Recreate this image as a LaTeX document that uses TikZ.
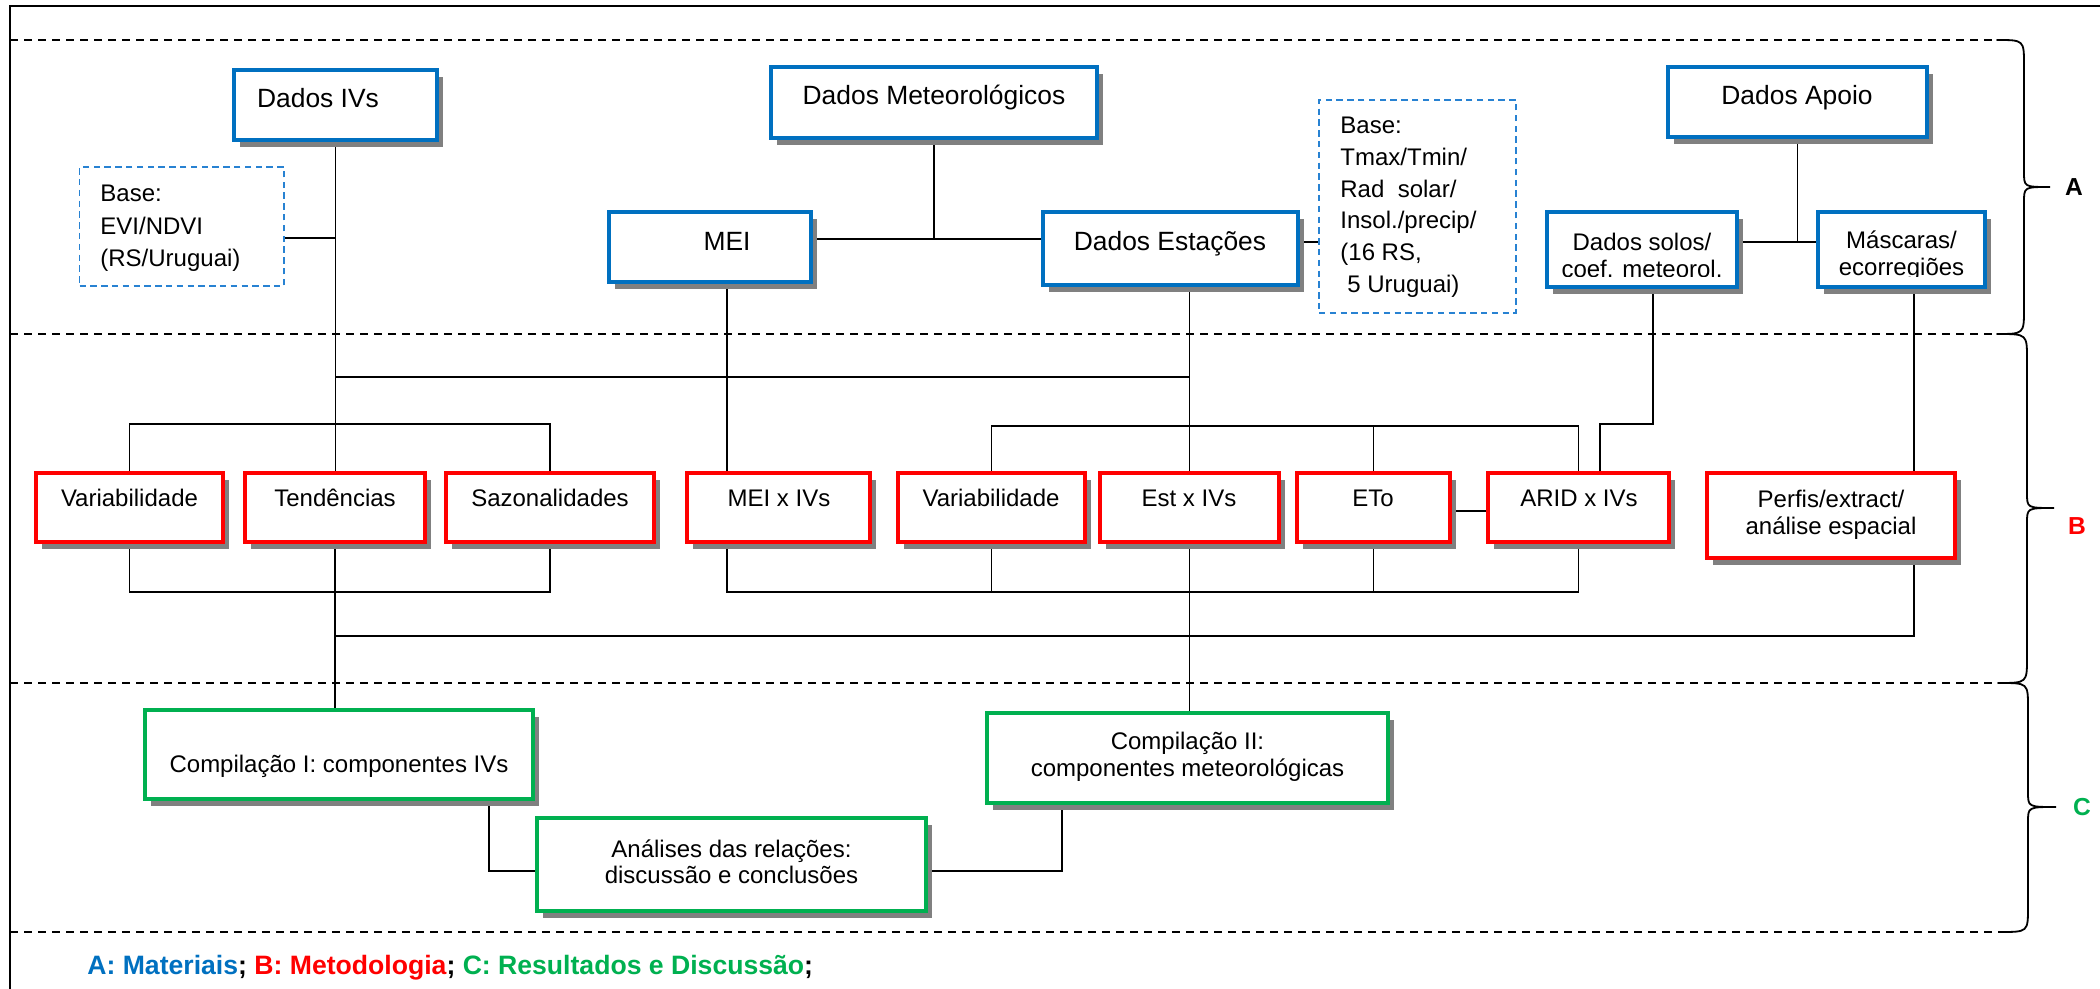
\documentclass[tikz,border=0pt]{standalone}
\usepackage{fontspec}
\setmainfont{Liberation Sans}
\usetikzlibrary{backgrounds}
\definecolor{cblue}{RGB}{0,112,192}
\definecolor{cred}{RGB}{255,0,0}
\definecolor{cgreen}{RGB}{0,176,80}
\definecolor{cdash}{RGB}{40,130,210}
\definecolor{shade}{RGB}{128,128,128}
\newcommand\secbrace[6]{%
  \draw[bracepath] (#1,#4) .. controls (#2,#4) .. (#2,#4+25) -- (#2,#5-15)
    .. controls (#2,#5) .. (#3,#5) .. controls (#2,#5) .. (#2,#5+15)
    -- (#2,#6-25) .. controls (#2,#6) .. (#1,#6);}
\tikzset{
  box/.style={draw, line width=1.75pt, fill=white, inner sep=0pt,
    preaction={fill=shade, transform canvas={xshift=3pt, yshift=-3.3pt}}},
  bbox/.style={box, draw=cblue},
  rbox/.style={box, draw=cred},
  gbox/.style={box, draw=cgreen},
  dbox/.style={draw=cdash, line width=0.65pt, dash pattern=on 3.2pt off 2.2pt, fill=white, inner sep=0pt},
  tbig/.style={font=\fontsize{13.2}{15}\selectfont, text height=9.4pt, text depth=0pt, inner sep=0pt},
  tmid/.style={font=\fontsize{12}{14}\selectfont, text height=8.6pt, text depth=0pt, inner sep=0pt},
  ttwo/.style={font=\fontsize{12}{13.5}\selectfont, align=center, inner sep=0pt},
  tbase/.style={font=\fontsize{12}{15.9}\selectfont, align=left, inner sep=0pt, anchor=north west},
  leg/.style={font=\fontsize{13.3}{15}\selectfont\bfseries, text height=9.5pt, text depth=0pt, inner sep=0pt, anchor=west},
  lab/.style={font=\fontsize{12.3}{14}\selectfont\bfseries, text height=8.8pt, text depth=0pt, inner sep=0pt},
  conn/.style={line width=0.7pt},
  sect/.style={line width=0.8pt, dash pattern=on 4pt off 3pt},
  bracepath/.style={line width=0.9pt, line cap=round},
}
\begin{document}
\begin{tikzpicture}[x=0.5pt, y=-0.5pt]
\useasboundingbox (0,0) rectangle (2100,989);
% frame and section lines
\draw[line width=1pt] (10,989) -- (10,6) -- (2100,6);
\draw[sect] (10,40) -- (1997,40);
\draw[sect] (10,334) -- (1998,334);
\draw[sect] (10,683) -- (2000,683);
\draw[sect] (10,932) -- (2000,932);
\secbrace{1997}{2024}{2050}{40}{187}{334}
\secbrace{1998}{2027}{2054}{334}{508}{683}
\secbrace{2000}{2028}{2056}{683}{807}{932}
\node[lab] (la) at (2074,187) {A};
\node[lab, text=cred] (lb) at (2077,526) {B};
\node[lab, text=cgreen] (lc) at (2082,807) {C};

% section A boxes
\node[bbox, minimum width=101.5pt, minimum height=35pt] (ivs) at (335.5,105) {};
\node[bbox, minimum width=163pt, minimum height=35.5pt] (met) at (934,102.5) {};
\node[bbox, minimum width=101pt, minimum height=35pt] (mei) at (710,247) {};
\node[bbox, minimum width=127.5pt, minimum height=36.5pt] (est) at (1170.5,248.5) {};
\node[bbox, minimum width=129.5pt, minimum height=35pt] (apoio) at (1797.5,102) {};
\node[bbox, minimum width=95pt, minimum height=37.5pt] (solos) at (1642,249.5) {};
\node[bbox, minimum width=83.5pt, minimum height=37.5pt] (masc) at (1901.5,249.5) {};
\node[dbox, minimum width=102.25pt, minimum height=59.5pt] (base1) at (181.75,226.5) {};
\node[dbox, minimum width=98.5pt, minimum height=106.5pt] (base2) at (1417.5,206.5) {};

% section B boxes
\node[rbox, minimum width=93.5pt, minimum height=34.5pt] (var1) at (129.5,507.5) {};
\node[rbox, minimum width=90pt, minimum height=34.5pt] (tend) at (335,507.5) {};
\node[rbox, minimum width=104pt, minimum height=34.5pt] (saz) at (550,507.5) {};
\node[rbox, minimum width=91.5pt, minimum height=34.5pt] (meixivs) at (778.5,507.5) {};
\node[rbox, minimum width=93.5pt, minimum height=34.5pt] (var2) at (991.5,507.5) {};
\node[rbox, minimum width=89.5pt, minimum height=34.5pt] (estxivs) at (1189.5,507.5) {};
\node[rbox, minimum width=76.5pt, minimum height=34.5pt] (eto) at (1373.5,507.5) {};
\node[rbox, minimum width=90.5pt, minimum height=34.5pt] (arid) at (1578.5,507.5) {};
\node[rbox, minimum width=124pt, minimum height=42.5pt] (perfis) at (1831,515.5) {};

% section C boxes
\node[gbox, minimum width=194pt, minimum height=44.5pt] (comp1) at (339,754.5) {};
\node[gbox, minimum width=194.5pt, minimum height=46.5pt] (anal) at (731.5,864.5) {};
\node[gbox, minimum width=200.5pt, minimum height=45pt] (comp2) at (1187.5,758) {};

% helper coordinates
\coordinate (y238) at (0,238);
\coordinate (y239) at (0,239);
\coordinate (y242) at (0,242);
\coordinate (y377) at (0,377);
\coordinate (y424) at (0,424);
\coordinate (y426) at (0,426);
\coordinate (y511) at (0,511);
\coordinate (y592) at (0,592);
\coordinate (y636) at (0,636);
\coordinate (y871) at (0,871);
\coordinate (x727) at (727,0);
\coordinate (x1600) at (1600,0);
\coordinate (x1653) at (1653,0);
\coordinate (x1914) at (1914,0);
\coordinate (x489) at (489,0);
\coordinate (x1062) at (1062,0);

\begin{pgfonlayer}{background}
\draw[conn] (ivs.south) -- (ivs.south |- tend.north);
\draw[conn] (tend.south) -- (tend.south |- comp1.north);
\draw[conn] (base1.east |- y238) -- (ivs.south |- y238);
\draw[conn] (met.south) -- (met.south |- y239);
\draw[conn] (mei.east |- y239) -- (est.west |- y239);
\draw[conn] (est.east |- y242) -- (base2.west |- y242);
\draw[conn] (apoio.south) -- (apoio.south |- y242);
\draw[conn] (solos.east |- y242) -- (masc.west |- y242);
\draw[conn] (estxivs.north |- est.south) -- (estxivs.north);
\draw[conn] (ivs.south |- y377) -- (estxivs.north |- y377);
\draw[conn] (mei.south -| x727) -- (meixivs.north -| x727);
\draw[conn] (var1.north) -- (var1.north |- y424) -- (saz.north |- y424) -- (saz.north);
\draw[conn] (var1.south) -- (var1.south |- y592) -- (saz.south |- y592) -- (saz.south);
\draw[conn] (var2.north) -- (var2.north |- y426) -- (arid.north |- y426) -- (arid.north);
\draw[conn] (eto.north) -- (eto.north |- y426);
\draw[conn] (meixivs.south -| x727) -- (x727 |- y592) -- (arid.south |- y592) -- (arid.south);
\draw[conn] (var2.south) -- (var2.south |- y592);
\draw[conn] (eto.south) -- (eto.south |- y592);
\draw[conn] (estxivs.south) -- (estxivs.south |- comp2.north);
\draw[conn] (eto.east |- y511) -- (arid.west |- y511);
\draw[conn] (solos.south -| x1653) -- (x1653 |- y424) -- (x1600 |- y424) -- (arid.north -| x1600);
\draw[conn] (masc.south -| x1914) -- (perfis.north -| x1914);
\draw[conn] (perfis.south -| x1914) -- (x1914 |- y636) -- (tend.south |- y636);
\draw[conn] (comp1.south -| x489) -- (x489 |- y871) -- (anal.west |- y871);
\draw[conn] (anal.east |- y871) -- (x1062 |- y871) -- (comp2.south -| x1062);
\end{pgfonlayer}

% texts
\node[tbig] (tivs) at (318,98) {Dados IVs};
\node[tbig] (tmet) at (934,95) {Dados Meteorológicos};
\node[tbig] (tmei) at (727,241) {MEI};
\node[tbig] (test) at (1170,241) {Dados Estações};
\node[tbig] (tapoio) at (1797,95) {Dados Apoio};
\begin{scope}
\clip (1540,205) rectangle (2015,277);
\node[ttwo] (tsolos) at (1642,255.5) {Dados solos/\\coef. meteorol.};
\node[ttwo] (tmasc) at (1901.5,255.5) {Máscaras/\\ecorregiões};
\end{scope}
\node[tbase, font=\fontsize{12}{16.3}\selectfont] (tb1) at (100,184.5) {Base:\\EVI/NDVI\\(RS/Uruguai)};
\node[tbase] (tb2) at (1340,116.5) {Base:\\Tmax/Tmin/\\Rad\ \ solar/\\Insol./precip/\\(16 RS,\\\hspace*{3.5pt}5 Uruguai)};

\node[tmid] (tvar1) at (129.5,498) {Variabilidade};
\node[tmid] (ttend) at (335,498) {Tendências};
\node[tmid] (tsaz) at (550,498) {Sazonalidades};
\node[tmid] (tmeixivs) at (779,498) {MEI x IVs};
\node[tmid] (tvar2) at (991,498) {Variabilidade};
\node[tmid] (testxivs) at (1189,498) {Est x IVs};
\node[tmid] (teto) at (1373,498) {ETo};
\node[tmid] (tarid) at (1579,498) {ARID x IVs};
\node[ttwo] (tperfis) at (1831,514.5) {Perfis/extract/\\análise espacial};

\node[tmid] (tcomp1) at (339,764) {Compilação I: componentes IVs};
\node[ttwo, font=\fontsize{12}{12.8}\selectfont] (tanal) at (731.5,861.5) {Análises das relações:\\discussão e conclusões};
\node[ttwo] (tcomp2) at (1187.5,757) {Compilação II:\\componentes meteorológicas};

\node[leg] (legend) at (87,965) {\textcolor{cblue}{A: Materiais}; \textcolor{cred}{B: Metodologia}; \textcolor{cgreen}{C: Resultados e Discussão};};
\end{tikzpicture}
\end{document}
